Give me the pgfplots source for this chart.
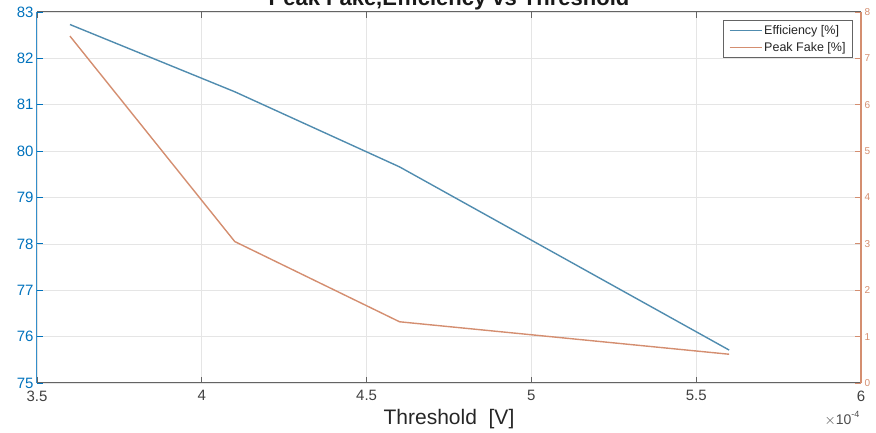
\documentclass[border=0pt]{standalone}
\usepackage{pgfplots}
\pgfplotsset{compat=1.18}
\usepackage{fontspec}
\setmainfont{Liberation Sans}
\definecolor{mblue}{rgb}{0,0.447,0.741}
\definecolor{morange}{rgb}{0.85,0.325,0.098}
\definecolor{lineblue}{RGB}{80,140,175}
\definecolor{lineorange}{RGB}{212,142,112}
\definecolor{axgray}{RGB}{100,100,100}
\begin{document}
\begin{tikzpicture}
\begin{axis}[
  at={(0,0)}, anchor=south west,
  scale only axis, width=824pt, height=371pt,
  xmin=3.5, xmax=6, ymin=75, ymax=83,
  xtick={3.5,4,4.5,5,5.5,6},
  xticklabels={3.5,4,4.5,5,5.5,6},
  ytick={75,76,77,78,79,80,81,82,83},
  separate axis lines,
  axis x line*=box, axis y line*=left,
  x axis line style={draw=axgray, line width=1pt},
  y axis line style={draw=mblue!80, line width=1pt},
  tick align=inside,
  major tick length=6pt,
  xtick style={draw=axgray, line width=0.8pt},
  ytick style={draw=mblue, line width=0.8pt},
  grid=major,
  major grid style={draw=black!10, line width=0.7pt},
  /pgf/number format/assume math mode=true,
  xticklabel style={font=\fontsize{15}{17}\selectfont, text=black!75, yshift=-4pt},
  yticklabel style={font=\fontsize{15}{17}\selectfont, text=mblue},
  xlabel={Threshold\ \ [V]},
  xlabel style={at={(axis description cs:0.5,0)}, anchor=base, yshift=-42pt, font=\fontsize{21}{24}\selectfont, text=black!85},
  clip=false,
]
\addplot[color=lineblue, line width=1.4pt] coordinates {
  (3.6,82.73) (4.1,81.28) (4.6,79.66) (5.6,75.71)
};
\node[anchor=base, font=\bfseries\fontsize{22}{26}\selectfont, text=black!90] at (axis description cs:0.5,1) [yshift=6pt] {Peak Fake,Efficiency vs Threshold};
\node[anchor=base east, font=\fontsize{14}{16}\selectfont, text=black!70] at (axis description cs:1,0) [xshift=2pt, yshift=-42pt] {$\times$10\raisebox{0.5em}{\fontsize{9}{10}\selectfont -4}};
\end{axis}
\begin{axis}[
  at={(0,0)}, anchor=south west,
  scale only axis, width=824pt, height=371pt,
  xmin=3.5, xmax=6, ymin=0, ymax=8,
  ytick={0,1,2,3,4,5,6,7,8},
  axis x line=none, axis y line*=right,
  y axis line style={draw=lineorange, line width=1.2pt},
  ytick style={draw=lineorange, line width=0.8pt},
  tick align=inside,
  major tick length=6pt,
  /pgf/number format/assume math mode=true,
  yticklabel style={font=\fontsize{10}{12}\selectfont, text=lineorange},
  legend style={at={(axis description cs:0.9903,0.9784)}, anchor=north east,
    draw=axgray, fill=white, font=\fontsize{12.5}{14}\selectfont, text=black!85,
    inner xsep=5pt, inner ysep=3pt, row sep=2pt, line width=1pt},
  legend cell align=left,
  legend image code/.code={\draw[#1] (0pt,0pt) -- (32pt,0pt);},
]
\addlegendimage{color=lineblue, line width=1.4pt}
\addlegendentry{Efficiency [\%]}
\addplot[color=lineorange, line width=1.4pt] coordinates {
  (3.6,7.48) (4.1,3.05) (4.6,1.32) (5.6,0.62)
};
\addlegendentry{Peak Fake [\%]}
\end{axis}
\pgfresetboundingbox
\useasboundingbox (-37pt,-50pt) rectangle (839pt,383pt);
\end{tikzpicture}
\end{document}
